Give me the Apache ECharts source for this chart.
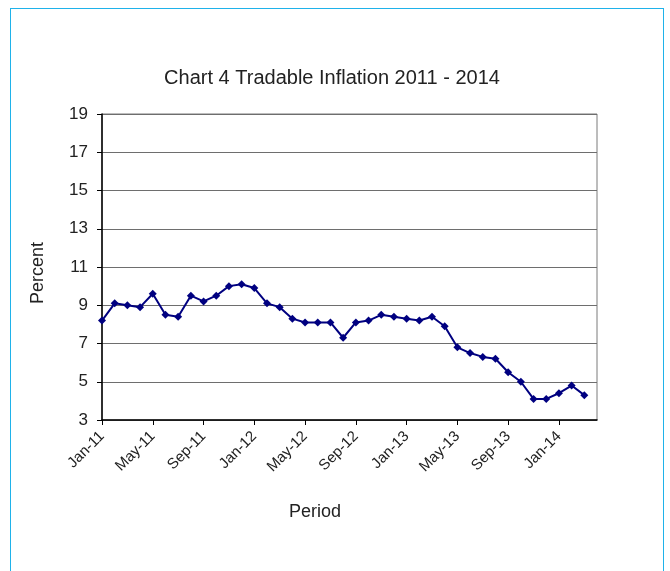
<!DOCTYPE html>
<html>
<head>
<meta charset="utf-8">
<script src="https://cdn.jsdelivr.net/npm/echarts@6/dist/echarts.min.js"></script>
<style>
html,body{margin:0;padding:0;background:#fff;}
#wrap{position:relative;width:670px;height:571px;overflow:hidden;}
#frame{position:absolute;left:10px;top:8px;width:654px;height:600px;border:1.5px solid #1fb2ea;box-sizing:border-box;}
#chart{position:absolute;left:0;top:0;width:670px;height:571px;}
</style>
</head>
<body>
<div id="wrap"><div id="frame"></div><div id="chart"></div></div>
<script>
var categories = [
 'Jan-11','Feb-11','Mar-11','Apr-11','May-11','Jun-11','Jul-11','Aug-11','Sep-11','Oct-11','Nov-11','Dec-11',
 'Jan-12','Feb-12','Mar-12','Apr-12','May-12','Jun-12','Jul-12','Aug-12','Sep-12','Oct-12','Nov-12','Dec-12',
 'Jan-13','Feb-13','Mar-13','Apr-13','May-13','Jun-13','Jul-13','Aug-13','Sep-13','Oct-13','Nov-13','Dec-13',
 'Jan-14','Feb-14','Mar-14','Apr-14'
];
var tradableInflation = [
 8.2, 9.1, 9.0, 8.9, 9.6, 8.5, 8.4, 9.5, 9.2, 9.5, 10.0, 10.1,
 9.9, 9.1, 8.9, 8.3, 8.1, 8.1, 8.1, 7.3, 8.1, 8.2, 8.5, 8.4,
 8.3, 8.2, 8.4, 7.9, 6.8, 6.5, 6.3, 6.2, 5.5, 5.0, 4.1, 4.1,
 4.4, 4.8, 4.3, null
];
var chartTitle = 'Chart 4 Tradable Inflation 2011 - 2014';
var yName = 'Percent';
var xName = 'Period';

var chart = echarts.init(document.getElementById('chart'));
var font = 'Liberation Sans, Arial, sans-serif';
chart.setOption({
  animation: false,
  backgroundColor: 'transparent',
  title: {
    text: chartTitle, left: 327, top: 63, textAlign: 'center',
    textStyle: {fontFamily: font, fontSize: 20, fontWeight: 'normal', color: '#222'}
  },
  graphic: [
    {type: 'text', left: 289, top: 503, style: {text: xName, font: '18px ' + font, fill: '#222'}},
    {type: 'text', x: 38, y: 273, rotation: Math.PI/2, style: {text: yName, font: '18px ' + font, fill: '#222', textAlign: 'center', textVerticalAlign: 'middle'}}
  ],
  grid: {left: 102, right: 73, top: 114, bottom: 151, show: true, borderColor: '#7a7a7a', borderWidth: 1},
  xAxis: {
    type: 'category', data: categories, boundaryGap: false,
    axisLine: {lineStyle: {color: '#000', width: 1.5}},
    axisTick: {show: true, interval: 3, length: 5, lineStyle: {color: '#000'}},
    axisLabel: {interval: 3, rotate: 45, fontFamily: font, fontSize: 15, color: '#222', margin: 14},
    splitLine: {show: false}
  },
  yAxis: {
    type: 'value', min: 3, max: 19, interval: 2,
    axisLine: {show: true, lineStyle: {color: '#000', width: 1.5}},
    axisTick: {show: true, length: 5, lineStyle: {color: '#000'}},
    axisLabel: {fontFamily: font, fontSize: 17, color: '#222', margin: 14},
    splitLine: {show: true, lineStyle: {color: '#6e6e6e', width: 1}}
  },
  series: [{
    type: 'line', data: tradableInflation,
    symbol: 'diamond', symbolSize: 8, showSymbol: true,
    lineStyle: {color: '#000080', width: 2},
    itemStyle: {color: '#000080'},
    connectNulls: false
  }]
});
</script>
</body>
</html>
